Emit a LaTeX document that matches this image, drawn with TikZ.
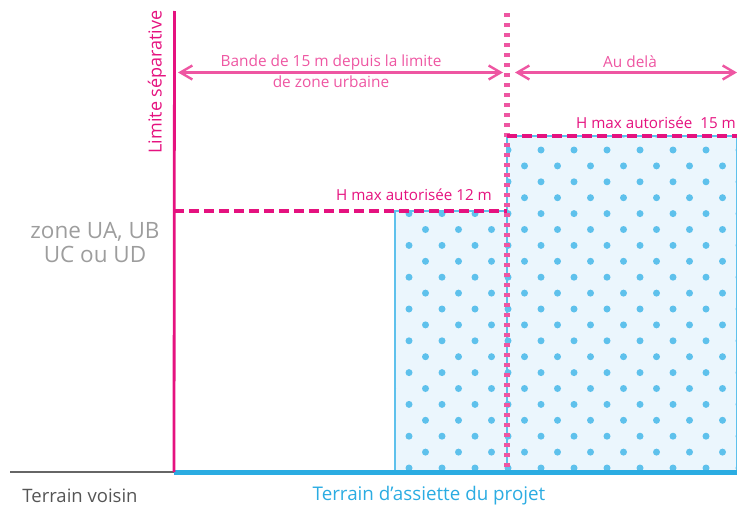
\documentclass[tikz,border=0pt]{standalone}
\usepackage{fontspec}
\setmainfont{Open Sans}
\usetikzlibrary{arrows.meta}

\definecolor{limpink}{HTML}{E5127F}
\definecolor{bandpink}{HTML}{EE56A2}
\definecolor{sitblue}{HTML}{2BACE2}
\definecolor{dotblue}{HTML}{5EC1EC}
\definecolor{bldfill}{HTML}{EBF6FD}
\definecolor{zonegray}{HTML}{9D9D9D}
\definecolor{voisgray}{HTML}{555555}

\begin{document}
\begin{tikzpicture}[x=1pt, y=-1pt,
  txt/.style = {inner sep=0pt, font=\fontsize{15.4}{18}\selectfont, text=bandpink},
  band/.style = {draw=bandpink, line width=2.4pt,
    {Straight Barb[length=12pt,width=14pt,line width=2.4pt]}-{Straight Barb[length=12pt,width=14pt,line width=2.4pt]}},
  hmax/.style = {draw=limpink, line width=3.6pt, dash pattern=on 10pt off 5pt},
  bld/.style = {fill=bldfill, draw=dotblue, line width=1.3pt}]

\useasboundingbox (0, 0) rectangle (737, 506);

% buildings
\draw[bld] (395, 211) rectangle (507, 472);
\draw[bld] (507, 136) rectangle (737, 472);

\begin{scope}
\clip (395, 211) rectangle (507, 472) (507, 136) rectangle (737, 472);
\foreach \r in {-1,...,21} {
  \foreach \c in {0,...,11} {
    \pgfmathsetmacro{\xx}{392.5 + 33*\c + 16.5*mod(\r+1, 2)}
    \fill[dotblue] (\xx, 150 + 15.9*\r) circle (3.5pt);
  }
}
\end{scope}
\draw[draw=dotblue, line width=1.3pt] (395, 472) -- (395, 211);

% limits
\coordinate (D0) at (507, 13);
\coordinate (D1) at (507, 472);
\draw[bandpink, line width=5.5pt, dash pattern=on 3.5pt off 6.5pt] (D0) -- (D1);

\coordinate (H1a) at (174, 211);
\coordinate (H1b) at (507, 211);
\coordinate (H2a) at (507, 136);
\coordinate (H2b) at (737, 136);
\draw[hmax] (H1a) -- (H1b);
\draw[hmax] (H2a) -- (H2b);

\coordinate (G0) at (10, 472);
\coordinate (G1) at (174, 472);
\coordinate (G2) at (737, 472);
\draw[draw=black!60, line width=2.6pt] (G0) -- (G1);
\draw[draw=sitblue, line width=5pt] (G1) -- (G2);

\coordinate (L0) at (174.5, 11);
\draw[draw=limpink, line width=2.8pt] (L0) -- (G1);

% bands
\coordinate (B0) at (178, 72.5);
\coordinate (B1) at (503, 72.5);
\coordinate (C0) at (515, 72.5);
\coordinate (C1) at (737, 72.5);
\draw[band] (B0) -- (B1);
\draw[band] (C0) -- (C1);

\node[txt] (bande1) at (331, 62) {Bande de 15 m depuis la limite};
\node[txt] (bande2) at (331, 82) {de zone urbaine};
\node[txt] (audela) at (630, 62) {Au delà};

\node[txt, text=limpink, font=\fontsize{15.2}{18}\selectfont] (hmax12) at (414, 195) {H max autorisée 12 m};
\node[txt, text=limpink, font=\fontsize{15.2}{18}\selectfont] (hmax15) at (656, 123) {H max autorisée\ \ 15 m};

\node[txt, text=limpink, font=\fontsize{18}{20}\selectfont, rotate=90] (limite) at (157, 82) {Limite séparative};

\node[txt, text=zonegray, align=center, font=\fontsize{22.5}{24}\selectfont] (zone) at (95, 243) {zone UA, UB\\UC ou UD};

\node[txt, text=voisgray, font=\fontsize{18.5}{20}\selectfont] (voisin) at (80, 496) {Terrain voisin};
\node[txt, text=sitblue, font=\fontsize{18.8}{20}\selectfont] (assiette) at (429, 496) {Terrain d’assiette du projet};

\end{tikzpicture}
\end{document}
